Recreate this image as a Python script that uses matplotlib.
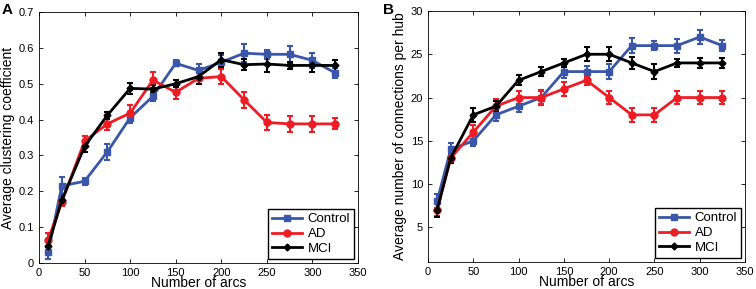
import matplotlib
matplotlib.use('Agg')
import matplotlib.pyplot as plt

# Number of arcs (shared x values)
arcs = [10, 25, 50, 75, 100, 125, 150, 175, 200, 225, 250, 275, 300, 325]

# Panel A: average clustering coefficient
clust_control = [0.030, 0.215, 0.228, 0.310, 0.405, 0.465, 0.557, 0.537, 0.560, 0.585, 0.582, 0.582, 0.565, 0.530]
clust_control_err = [0.018, 0.025, 0.010, 0.022, 0.015, 0.012, 0.008, 0.018, 0.020, 0.025, 0.012, 0.024, 0.022, 0.015]
clust_ad = [0.065, 0.170, 0.340, 0.388, 0.418, 0.510, 0.476, 0.515, 0.520, 0.455, 0.392, 0.388, 0.388, 0.388]
clust_ad_err = [0.020, 0.012, 0.015, 0.018, 0.022, 0.022, 0.020, 0.015, 0.022, 0.022, 0.020, 0.022, 0.022, 0.015]
clust_mci = [0.048, 0.175, 0.325, 0.412, 0.487, 0.485, 0.500, 0.520, 0.567, 0.553, 0.555, 0.551, 0.551, 0.551]
clust_mci_err = [0.012, 0.012, 0.015, 0.010, 0.015, 0.012, 0.010, 0.022, 0.020, 0.015, 0.022, 0.010, 0.018, 0.015]

# Panel B: average number of connections per hub
conn_control = [8, 14, 15, 18, 19, 20, 23, 23, 23, 26, 26, 26, 27, 26]
conn_control_err = [0.8, 0.8, 0.6, 0.7, 0.7, 0.7, 0.7, 0.7, 0.9, 0.9, 0.5, 0.8, 0.8, 0.6]
conn_ad = [7, 13, 16, 19, 20, 20, 21, 22, 20, 18, 18, 20, 20, 20]
conn_ad_err = [0.7, 0.6, 0.8, 0.8, 0.8, 0.9, 0.8, 0.5, 0.8, 0.8, 0.8, 0.8, 0.8, 0.7]
conn_mci = [7, 13, 18, 19, 22, 23, 24, 25, 25, 24, 23, 24, 24, 24]
conn_mci_err = [0.8, 0.6, 0.8, 0.6, 0.6, 0.5, 0.5, 0.8, 0.8, 0.7, 0.9, 0.5, 0.6, 0.6]

group_names = ['Control', 'AD', 'MCI']
group_colors = ['#3a56a8', '#ee1c24', '#000000']
group_markers = ['s', 'o', 'D']

plt.rcParams['font.family'] = ['Liberation Sans', 'DejaVu Sans']

fig = plt.figure(figsize=(7.56, 2.89), dpi=100)
ax_a = fig.add_axes([39 / 756, 1 - 263 / 289, 319 / 756, 251 / 289])
ax_b = fig.add_axes([428 / 756, 1 - 262 / 289, 317 / 756, 251 / 289])


def draw_panel(ax, series, ylabel, ylim, yticks):
    handles = []
    for (vals, errs), name, col, mk in zip(series, group_names, group_colors, group_markers):
        ms = 5 if mk != 'D' else 3.5
        cont = ax.errorbar(arcs, vals, yerr=errs, color=col, marker=mk, markersize=ms,
                           linewidth=2, elinewidth=1.5, capsize=2.5, capthick=1.5, label=name)
        handles.append(cont[0])
    ax.set_xlim(0, 350)
    ax.set_ylim(*ylim)
    ax.set_xticks(range(0, 351, 50))
    ax.set_yticks(yticks)
    ax.tick_params(direction='in', top=True, right=True, labelsize=8, length=3, width=0.6)
    for spine in ax.spines.values():
        spine.set_linewidth(0.6)
    ax.set_xlabel('Number of arcs', fontsize=10, labelpad=-1)
    ax.set_ylabel(ylabel, fontsize=10, labelpad=3)
    # legend shows plain line + marker, as in the original figure
    ax.legend(handles, group_names, loc='lower right', fontsize=9.5, fancybox=False,
              edgecolor='black', framealpha=1, handlelength=2.3, borderpad=0.3,
              labelspacing=0.2, handletextpad=0.4, borderaxespad=0.3)


draw_panel(ax_a,
           [(clust_control, clust_control_err), (clust_ad, clust_ad_err), (clust_mci, clust_mci_err)],
           'Average clustering coefficient', (0, 0.7),
           [0, 0.1, 0.2, 0.3, 0.4, 0.5, 0.6, 0.7])
ax_a.set_yticklabels(['0', '0.1', '0.2', '0.3', '0.4', '0.5', '0.6', '0.7'])

draw_panel(ax_b,
           [(conn_control, conn_control_err), (conn_ad, conn_ad_err), (conn_mci, conn_mci_err)],
           'Average number of connections per hub', (1, 30),
           [5, 10, 15, 20, 25, 30])

fig.text(2 / 756, 1 - 10 / 289, 'A', fontsize=11, fontweight='bold', va='center', ha='left')
fig.text(383 / 756, 1 - 10 / 289, 'B', fontsize=11, fontweight='bold', va='center', ha='left')

fig.savefig('out.png', dpi=100)
